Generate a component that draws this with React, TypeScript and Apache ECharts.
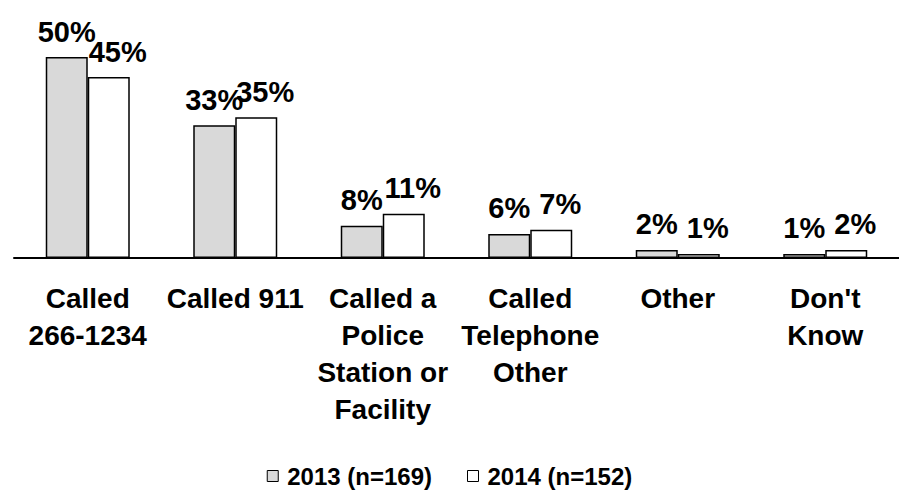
import React, { useEffect, useRef } from "react";
import * as echarts from "echarts";

const categories = [
  "Called\n266-1234",
  "Called 911",
  "Called a\nPolice\nStation or\nFacility",
  "Called\nTelephone\nOther",
  "Other",
  "Don't\nKnow",
];
const seriesNames = ["2013 (n=169)", "2014 (n=152)"];
const values2013 = [50, 33, 8, 6, 2, 1];
const values2014 = [45, 35, 11, 7, 1, 2];

const FONT = "'Liberation Sans', Arial, Helvetica, sans-serif";

export default function App() {
  const ref = useRef<HTMLDivElement>(null);
  useEffect(() => {
    if (!ref.current) return;
    const chart = echarts.init(ref.current, null, { renderer: "svg" });
    const labelStyle = {
      show: true,
      position: "top" as const,
      distance: 11,
      fontSize: 29,
      fontWeight: "bold" as const,
      fontFamily: FONT,
      color: "#000",
      formatter: (p: any) => `${p.value}%`,
    };
    chart.setOption({
      animation: false,
      backgroundColor: "#fff",
      textStyle: { fontFamily: FONT },
      grid: { left: 14, top: 57, width: 896, height: 201 },
      xAxis: {
        type: "category",
        data: categories,
        axisLine: { lineStyle: { color: "#000", width: 2 } },
        axisTick: { length: 12, lineStyle: { color: "#000", width: 1.5 } },
        axisLabel: {
          interval: 0,
          margin: 22,
          fontSize: 28,
          fontWeight: "bold",
          fontFamily: FONT,
          color: "#000",
          lineHeight: 37,
        },
      },
      yAxis: { type: "value", min: 0, max: 50, show: false, splitLine: { show: false } },
      legend: {
        data: seriesNames,
        top: 458,
        left: "center",
        icon: "rect",
        itemWidth: 11,
        itemHeight: 11,
        itemGap: 35,
        itemStyle: { borderColor: "#000", borderWidth: 1 },
        textStyle: {
          fontSize: 24,
          lineHeight: 26,
          fontWeight: "bold",
          fontFamily: FONT,
          color: "#000",
          padding: [0, 0, 0, 4],
        },
      },
      series: [
        {
          name: seriesNames[0],
          type: "bar",
          data: values2013,
          barWidth: 42,
          barGap: "0%",
          itemStyle: { color: "#d9d9d9", borderColor: "#000", borderWidth: 1.5 },
          label: labelStyle,
        },
        {
          name: seriesNames[1],
          type: "bar",
          data: values2014,
          barWidth: 42,
          barGap: "0%",
          itemStyle: { color: "#ffffff", borderColor: "#000", borderWidth: 1.5 },
          label: { ...labelStyle, offset: [9, 0] },
        },
      ],
    });
    return () => chart.dispose();
  }, []);
  return (
    <div
      ref={ref}
      style={{ position: "absolute", left: 0, top: 0, width: 899, height: 490, background: "#fff" }}
    />
  );
}
